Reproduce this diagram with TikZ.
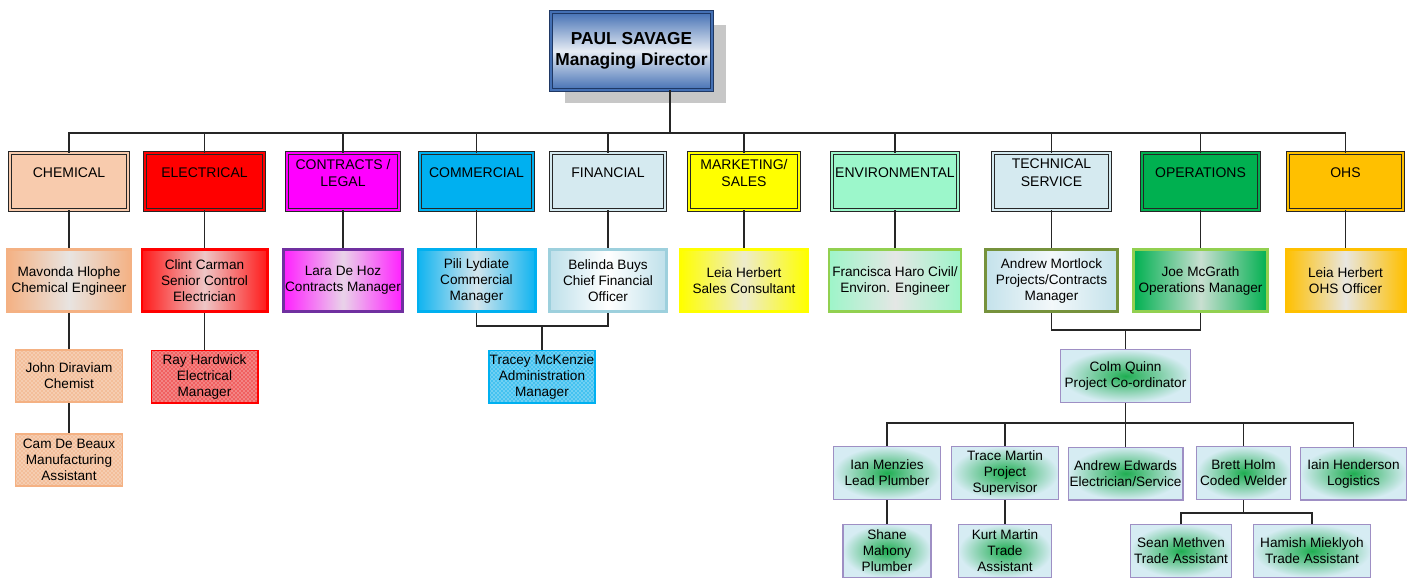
\documentclass[tikz,border=0pt]{standalone}
\usepackage{fontspec}
\setmainfont{Liberation Sans}
\usetikzlibrary{shadows,patterns}

\definecolor{bossline}{HTML}{1F3864}
\definecolor{bossblue}{HTML}{4470B4}
\definecolor{bosslight}{HTML}{E6ECF4}
\definecolor{chemc}{HTML}{F8CBAD}
\definecolor{elecc}{HTML}{FF0000}
\definecolor{contrc}{HTML}{FF00FF}
\definecolor{commc}{HTML}{00B0F0}
\definecolor{finc}{HTML}{D5EAF0}
\definecolor{mktc}{HTML}{FFFF00}
\definecolor{envc}{HTML}{9CF7CB}
\definecolor{opsc}{HTML}{00B050}
\definecolor{ohsc}{HTML}{FFC000}
\definecolor{mavE}{HTML}{F4B183}
\definecolor{mavM}{HTML}{E8E4E1}
\definecolor{clE}{HTML}{FF1A1A}
\definecolor{clM}{HTML}{EEC6C6}
\definecolor{laE}{HTML}{FF1FFF}
\definecolor{laM}{HTML}{E9D3E9}
\definecolor{laB}{HTML}{7030A0}
\definecolor{piE}{HTML}{10B4F0}
\definecolor{piM}{HTML}{D4E5EC}
\definecolor{beE}{HTML}{BEE0EA}
\definecolor{beB}{HTML}{9DD0DD}
\definecolor{leM}{HTML}{EDEBCB}
\definecolor{frE}{HTML}{9EF5C9}
\definecolor{frM}{HTML}{E4E7E5}
\definecolor{frB}{HTML}{92D050}
\definecolor{moE}{HTML}{C4E2EB}
\definecolor{moM}{HTML}{F3F8FA}
\definecolor{moB}{HTML}{76923C}
\definecolor{mcM}{HTML}{C9DFD1}
\definecolor{ohM}{HTML}{E8E6E0}
\definecolor{chemlt}{HTML}{F3BE9A}
\definecolor{raylt}{HTML}{F06060}
\definecolor{trlt}{HTML}{45C2F0}
\definecolor{teamline}{HTML}{9E8FC4}
\definecolor{teamglow}{HTML}{1FAE52}
\definecolor{teambg}{HTML}{D6ECF3}

\tikzset{
  boss/.style={rectangle, draw=bossline, line width=.7pt, double=bossblue, double distance=1.6pt,
    top color=bossblue, bottom color=bossblue, middle color=bosslight,
    minimum width=119pt, minimum height=58.5pt, align=center,
    font=\fontsize{13}{15.75}\selectfont\bfseries,
    drop shadow={shadow xshift=10.5pt, shadow yshift=-9.75pt, fill=black!22, opacity=1}},
  dept/.style={rectangle, draw=black!85, line width=.6pt, double=#1, double distance=1.8pt,
    fill=#1, minimum height=42.75pt},
  depttext/.style={align=center, yshift=6.6pt, inner xsep=0pt, font=\fontsize{10.5}{12.8}\selectfont},
  lead/.style n args={3}{rectangle, draw=#3, line width=2.2pt,
    left color=#1, right color=#1, middle color=#2,
    minimum height=46.5pt, align=center, inner xsep=0pt},
  chk/.style={rectangle, line width=1.2pt, preaction={fill=#1},
    pattern=crosshatch dots, pattern color=white,
    minimum height=39.3pt, align=center, inner xsep=0pt, inner ysep=1.5pt},
  team/.style={rectangle, draw=teamline, line width=.8pt,
    inner color=teamglow, outer color=teambg,
    minimum height=39.7pt, align=center, inner xsep=0pt, inner ysep=1.5pt},
  link/.style={draw=black!85, line width=.9pt}
}

\begin{document}
\begin{tikzpicture}[x=0.75pt, y=-0.75pt, font=\fontsize{10.2}{12}\selectfont]
  \useasboundingbox (0,0) rectangle (1407,579);

  % managing director
  \node[boss] (boss) at (631.5,51) {PAUL SAVAGE\\Managing Director};

  % departments
  \node[dept=chemc, minimum width=88.5pt, label={[depttext]center:CHEMICAL}] (chem) at (69,181.5) {};
  \node[dept=elecc, minimum width=89.25pt, label={[depttext]center:ELECTRICAL}] (elec) at (204.5,181.5) {};
  \node[dept=contrc, minimum width=84pt, label={[depttext]center:CONTRACTS /\\LEGAL}] (contr) at (343,181.5) {};
  \node[dept=commc, minimum width=84.75pt, label={[depttext]center:COMMERCIAL}] (comm) at (476.5,181.5) {};
  \node[dept=finc, minimum width=85.5pt, label={[depttext]center:FINANCIAL}] (fin) at (608,181.5) {};
  \node[dept=mktc, minimum width=82.5pt, label={[depttext]center:MARKETING/\\SALES}] (mkt) at (744,181.5) {};
  \node[dept=envc, minimum width=94.5pt, label={[depttext]center:ENVIRONMENTAL}] (env) at (895,181.5) {};
  \node[dept=finc, minimum width=87.75pt, label={[depttext]center:TECHNICAL\\SERVICE}] (tech) at (1051.5,181.5) {};
  \node[dept=opsc, minimum width=87.75pt, label={[depttext]center:OPERATIONS}] (ops) at (1200.5,181.5) {};
  \node[dept=ohsc, minimum width=86.25pt, label={[depttext]center:OHS}] (ohs) at (1345.5,181.5) {};

  % department leads
  \draw (chem)++(0,99) node[lead={mavE}{mavM}{mavE}, minimum width=93pt] (mavonda) {Mavonda Hlophe\\Chemical Engineer};
  \draw (elec)++(0,99) node[lead={clE}{clM}{elecc}, minimum width=93.8pt] (clint) {Clint Carman\\Senior Control\\Electrician};
  \draw (contr)++(0,99) node[lead={laE}{laM}{laB}, minimum width=89.3pt] (lara) {Lara De Hoz\\Contracts Manager};
  \draw (comm)++(0,99) node[lead={piE}{piM}{commc}, minimum width=87.8pt] (pili) {Pili Lydiate\\Commercial\\Manager};
  \draw (fin)++(0,99) node[lead={beE}{white}{beB}, minimum width=87.8pt] (belinda) {Belinda Buys\\Chief Financial\\Officer};
  \draw (mkt)++(0,99) node[lead={mktc}{leM}{mktc}, minimum width=95.3pt] (leia1) {Leia Herbert\\Sales Consultant};
  \draw (env)++(0,99) node[lead={frE}{frM}{frB}, minimum width=99pt] (francisca) {Francisca Haro Civil/\\Environ. Engineer};
  \draw (tech)++(0,99) node[lead={moE}{moM}{moB}, minimum width=99pt] (mortlock) {Andrew Mortlock\\Projects/Contracts\\Manager};
  \draw (ops)++(0,99) node[lead={opsc}{mcM}{frB}, minimum width=100.5pt] (mcgrath) {Joe McGrath\\Operations Manager};
  \draw (ohs)++(0,99) node[lead={ohsc}{ohM}{ohsc}, minimum width=89.3pt] (leia2) {Leia Herbert\\OHS Officer};

  % staff
  \draw (mavonda)++(0,95.5) node[chk=chemlt, draw=mavE, minimum width=80.5pt] (john) {John Diraviam\\Chemist};
  \draw (john)++(0,84) node[chk=chemlt, draw=mavE, minimum width=80.5pt] (cam) {Cam De Beaux\\Manufacturing\\Assistant};
  \draw (clint)++(0,96) node[chk=raylt, draw=elecc, minimum width=79.8pt] (ray) {Ray Hardwick\\Electrical\\Manager};
  \coordinate (adm) at (542,326);
  \draw (adm)++(0,50.5) node[chk=trlt, draw=commc, minimum width=79.8pt] (tracey) {Tracey McKenzie\\Administration\\Manager};

  % project team
  \coordinate (pc) at (1125.5,330);
  \draw (pc)++(0,46) node[team, minimum width=97.5pt] (colm) {Colm Quinn\\Project Co-ordinator};
  \coordinate (crew) at (1125.5,423);
  \node[team, minimum width=80.2pt] (ian) at (887,473) {Ian Menzies\\Lead Plumber};
  \node[team, minimum width=80.2pt] (trace) at (1005,473) {Trace Martin\\Project\\Supervisor};
  \node[team, minimum width=86.2pt] (aedwards) at (1125.5,473.5) {Andrew Edwards\\Electrician/Service};
  \node[team, minimum width=70.5pt] (brett) at (1243.5,473) {Brett Holm\\Coded Welder};
  \node[team, minimum width=79.5pt] (iain) at (1353.5,473.5) {Iain Henderson\\Logistics};
  \draw (ian)++(0,78) node[team, minimum width=66pt] (shane) {Shane\\Mahony\\Plumber};
  \draw (trace)++(0,78) node[team, minimum width=69.7pt] (kurt) {Kurt Martin\\Trade\\Assistant};
  \coordinate (weld) at (1243.5,513);
  \node[team, minimum width=75.7pt] (sean) at (1181,551) {Sean Methven\\Trade Assistant};
  \node[team, minimum width=87.7pt] (hamish) at (1312,551) {Hamish Mieklyoh\\Trade Assistant};

  % connectors
  \coordinate (bus) at (670,133);
  \draw[link] (boss.south -| bus) -- (bus);
  \foreach \d in {chem,elec,contr,comm,fin,mkt,env,tech,ops,ohs}
    \draw[link] (bus) -| (\d);
  \draw[link] (chem) -- (mavonda) -- (john) -- (cam);
  \draw[link] (elec) -- (clint) -- (ray);
  \foreach \d/\p in {contr/lara,comm/pili,fin/belinda,mkt/leia1,env/francisca,tech/mortlock,ops/mcgrath,ohs/leia2}
    \draw[link] (\d) -- (\p);
  \draw[link] (pili) |- (adm) -| (belinda);
  \draw[link] (adm) -- (tracey);
  \draw[link] (mortlock) |- (pc) -| (mcgrath);
  \draw[link] (pc) -- (colm) -- (crew);
  \foreach \n in {ian,trace,aedwards,brett,iain}
    \draw[link] (crew) -| (\n);
  \draw[link] (ian) -- (shane);
  \draw[link] (trace) -- (kurt);
  \draw[link] (brett) -- (weld);
  \draw[link] (sean) |- (weld) -| (hamish);
\end{tikzpicture}
\end{document}
